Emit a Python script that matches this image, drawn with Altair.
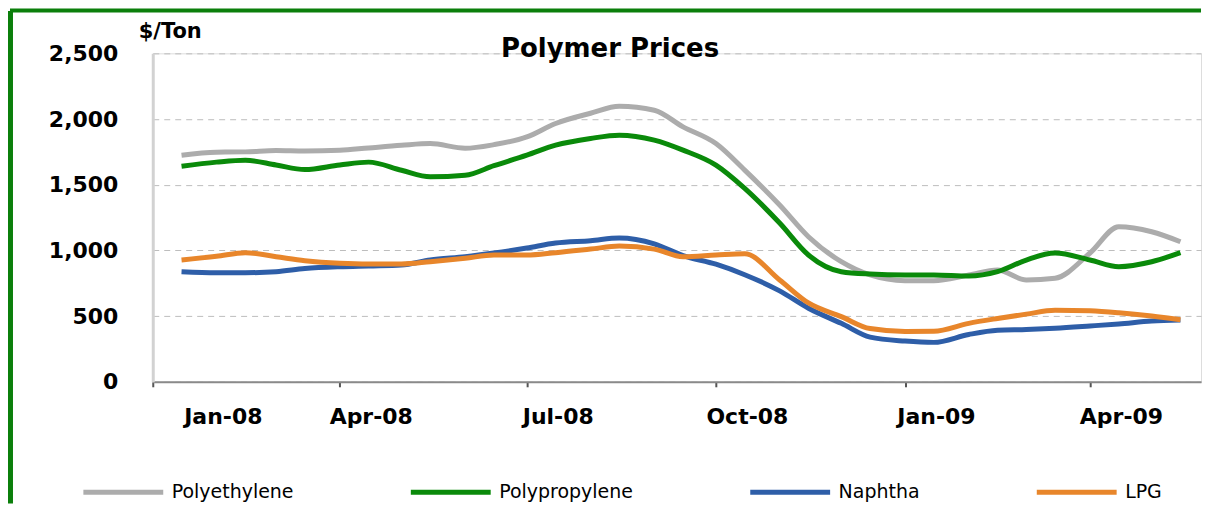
import altair as alt
import pandas as pd

# ---------------- data ----------------
dates = [
    "2008-01-15", "2008-02-01", "2008-02-15", "2008-03-01", "2008-03-15",
    "2008-04-01", "2008-04-15", "2008-05-01", "2008-05-15", "2008-06-01",
    "2008-06-15", "2008-07-01", "2008-07-15", "2008-08-01", "2008-08-15",
    "2008-09-01", "2008-09-15", "2008-10-01", "2008-10-15", "2008-11-01",
    "2008-11-15", "2008-12-01", "2008-12-15", "2009-01-01", "2009-01-15",
    "2009-02-01", "2009-02-15", "2009-03-01", "2009-03-15", "2009-04-01",
    "2009-04-15", "2009-05-01", "2009-05-15",
]

series_names = ["Polyethylene", "Polypropylene", "Naphtha", "LPG"]

polyethylene = [1725, 1748, 1750, 1760, 1756, 1762, 1780, 1800, 1813, 1778,
                1805, 1864, 1966, 2044, 2097, 2067, 1940, 1813, 1611, 1345,
                1104, 914, 813, 770, 770, 813, 851, 775, 788, 980,
                1180, 1142, 1066]
polypropylene = [1641, 1672, 1687, 1650, 1615, 1650, 1672, 1610, 1560, 1572,
                 1645, 1725, 1801, 1852, 1877, 1839, 1763, 1649, 1472, 1208,
                 965, 838, 820, 813, 813, 805, 838, 927, 980, 927,
                 876, 914, 983]
naphtha = [838, 830, 830, 838, 862, 876, 882, 889, 927, 952,
           980, 1018, 1056, 1074, 1094, 1050, 960, 895, 815, 692,
           560, 445, 340, 310, 300, 360, 392, 398, 408, 425,
           440, 462, 470]
lpg = [927, 955, 983, 952, 922, 902, 896, 896, 914, 940,
       965, 965, 983, 1010, 1033, 1010, 952, 965, 975, 775,
       600, 496, 405, 383, 385, 445, 482, 515, 545, 540,
       525, 500, 472]

chart_title = ["Polymer Prices"]
colors = ["#acacac", "#0a8a0a", "#2e5ea8", "#e8862b"]
y_ticks = [0, 500, 1000, 1500, 2000, 2500]
x_tick_months = [(2008, 1), (2008, 4), (2008, 7), (2008, 10), (2009, 1), (2009, 4)]

rows = []
for name, vals in zip(series_names, [polyethylene, polypropylene, naphtha, lpg]):
    for d, v in zip(dates, vals):
        rows.append({"date": d, "series": name, "price": v})
df = pd.DataFrame(rows)

FONT = "DejaVu Sans"
FRAME_GREEN = "#0b7f0b"

x_values = [alt.DateTime(year=y, month=m, date=1, utc=True) for y, m in x_tick_months]
x_domain = [alt.DateTime(year=2008, month=1, date=1, utc=True),
            alt.DateTime(year=2009, month=5, date=25, utc=True)]

lines = alt.Chart(df).mark_line(strokeWidth=5, interpolate="monotone").encode(
    x=alt.X(
        "date:T",
        scale=alt.Scale(type="utc", domain=x_domain),
        axis=alt.Axis(
            values=x_values, format="%b-%y", title=None, grid=False,
            labelOffset=31, labelPadding=20, tickSize=5, tickWidth=2,
            tickColor="#555555", domainColor="#8a8a8a", domainWidth=2,
            labelFont=FONT, labelFontSize=22, labelFontWeight="bold",
            labelColor="#000000",
        ),
    ),
    y=alt.Y(
        "price:Q",
        scale=alt.Scale(domain=[0, 2500]),
        axis=alt.Axis(
            values=y_ticks, format=",d", ticks=False, labelPadding=35,
            grid=True, gridDash=[6, 5], gridColor="#bdbdbd", gridWidth=1,
            domainColor="#d2d2d2", domainWidth=3,
            labelFont=FONT, labelFontSize=22, labelFontWeight="bold",
            labelColor="#000000",
            title="$/Ton", titleAngle=0, titleX=17, titleY=-16,
            titleAlign="center", titleBaseline="alphabetic",
            titleFont=FONT, titleFontSize=21, titleFontWeight="bold",
            titleColor="#000000",
        ),
    ),
    color=alt.Color(
        "series:N",
        scale=alt.Scale(domain=series_names, range=colors),
        legend=alt.Legend(
            title=None, orient="none", legendX=-72, legendY=397,
            direction="horizontal", symbolType="stroke", symbolSize=6400,
            symbolStrokeWidth=5, labelFont=FONT, labelFontSize=19,
            labelColor="#000000", columnPadding=106, labelOffset=6,
            labelLimit=400,
        ),
    ),
)

frame_data = alt.Data(values=[{"k": 1}])
left_rule = alt.Chart(frame_data).mark_rule(color=FRAME_GREEN, strokeWidth=5).encode(
    x=alt.value(-142.5), y=alt.value(-42.5), y2=alt.value(451)
)
top_rule = alt.Chart(frame_data).mark_rule(color=FRAME_GREEN, strokeWidth=4).encode(
    x=alt.value(-143), x2=alt.value(1050), y=alt.value(-43)
)

title_text = alt.Chart(alt.Data(values=[{"t": t} for t in chart_title])).mark_text(
    font=FONT, fontSize=26, fontWeight="bold", color="#000000",
    align="center", baseline="alphabetic",
).encode(text="t:N", x=alt.value(458), y=alt.value(4))

chart = alt.layer(left_rule, top_rule, lines, title_text).properties(
    width=1050,
    height=329,
    padding=0,
).configure_view(strokeWidth=0).configure(background="#ffffff")

chart.save("out.html", embed_options={"renderer": "svg", "actions": False})
